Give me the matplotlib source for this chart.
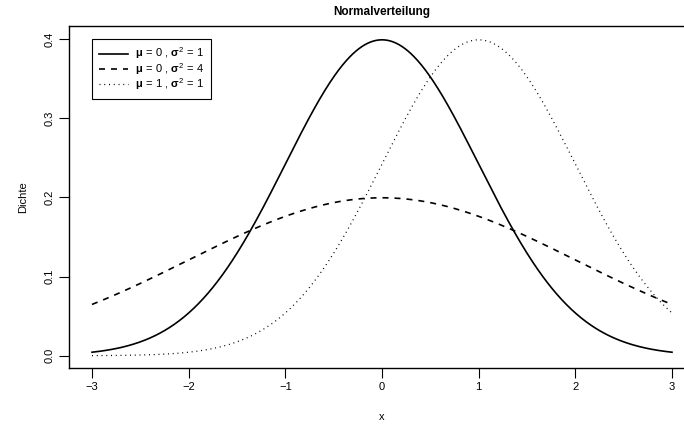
import numpy as np
import matplotlib
matplotlib.use("Agg")
import matplotlib.pyplot as plt

# Parameter der drei Normalverteilungen (aus der Legende)
mus = [0, 0, 1]
variances = [1, 4, 1]
labels = [r"$\mathbf{\mu}\,=\,0\ {,}\ \mathbf{\sigma}^2\,=\,1$",
          r"$\mathbf{\mu}\,=\,0\ {,}\ \mathbf{\sigma}^2\,=\,4$",
          r"$\mathbf{\mu}\,=\,1\ {,}\ \mathbf{\sigma}^2\,=\,1$"]
xticks = [-3, -2, -1, 0, 1, 2, 3]
yticks = [0.0, 0.1, 0.2, 0.3, 0.4]

plt.rcParams["font.family"] = ["Liberation Sans", "DejaVu Sans"]
plt.rcParams["mathtext.fontset"] = "custom"
plt.rcParams["mathtext.rm"] = "Liberation Sans"
plt.rcParams["mathtext.it"] = "Liberation Sans"
plt.rcParams["mathtext.bf"] = "Liberation Sans:bold"


def dichte(x, mu, var):
    return np.exp(-(x - mu) ** 2 / (2 * var)) / np.sqrt(2 * np.pi * var)


W, H = 684, 425
fig = plt.figure(figsize=(W / 100, H / 100), dpi=100)
left, right, top, bottom = 68.8, 695.2, 26.3, 368.4
ax = fig.add_axes([left / W, 1 - bottom / H, (right - left) / W, (bottom - top) / H])

x = np.linspace(-3, 3, 601)
# linienstile wie in R: durchgezogen, gestrichelt, gepunktet
ax.plot(x, dichte(x, mus[0], variances[0]), color="black", linewidth=1.2,
        label=labels[0])
ax.plot(x, dichte(x, mus[1], variances[1]), color="black", linewidth=1.2,
        dashes=(3.6, 3.6), label=labels[1])
ax.plot(x, dichte(x, mus[2], variances[2]), color="black", linewidth=0.9,
        dashes=(0.8, 3.0), label=labels[2])

ax.set_xlim(-3.24, 3.24)
ax.set_ylim(-0.016, 0.416)
ax.set_xticks(xticks)
ax.set_xticklabels([str(t).replace("-", "\u2212") for t in xticks])
ax.set_yticks(yticks)
ax.set_yticklabels([f"{t:.1f}" for t in yticks], rotation=90, va="center")
ax.tick_params(direction="out", length=7, width=0.8, labelsize=8, pad=3)
for s in ax.spines.values():
    s.set_linewidth(1.0)
ax.spines["right"].set_visible(False)

ax.set_title("Normalverteilung", fontsize=8.5, fontweight="bold", pad=8)
ax.set_xlabel("x", fontsize=8, labelpad=14)
ax.set_ylabel("Dichte", fontsize=8, labelpad=12)

leg = ax.legend(loc="upper left", bbox_to_anchor=(0.037, 0.963), borderaxespad=0,
                fontsize=8, fancybox=False, edgecolor="black", framealpha=1,
                handlelength=2.6, labelspacing=-0.05, borderpad=0.6, handletextpad=0.7)
leg.get_frame().set_linewidth(0.8)

fig.savefig("out.png", dpi=100)
